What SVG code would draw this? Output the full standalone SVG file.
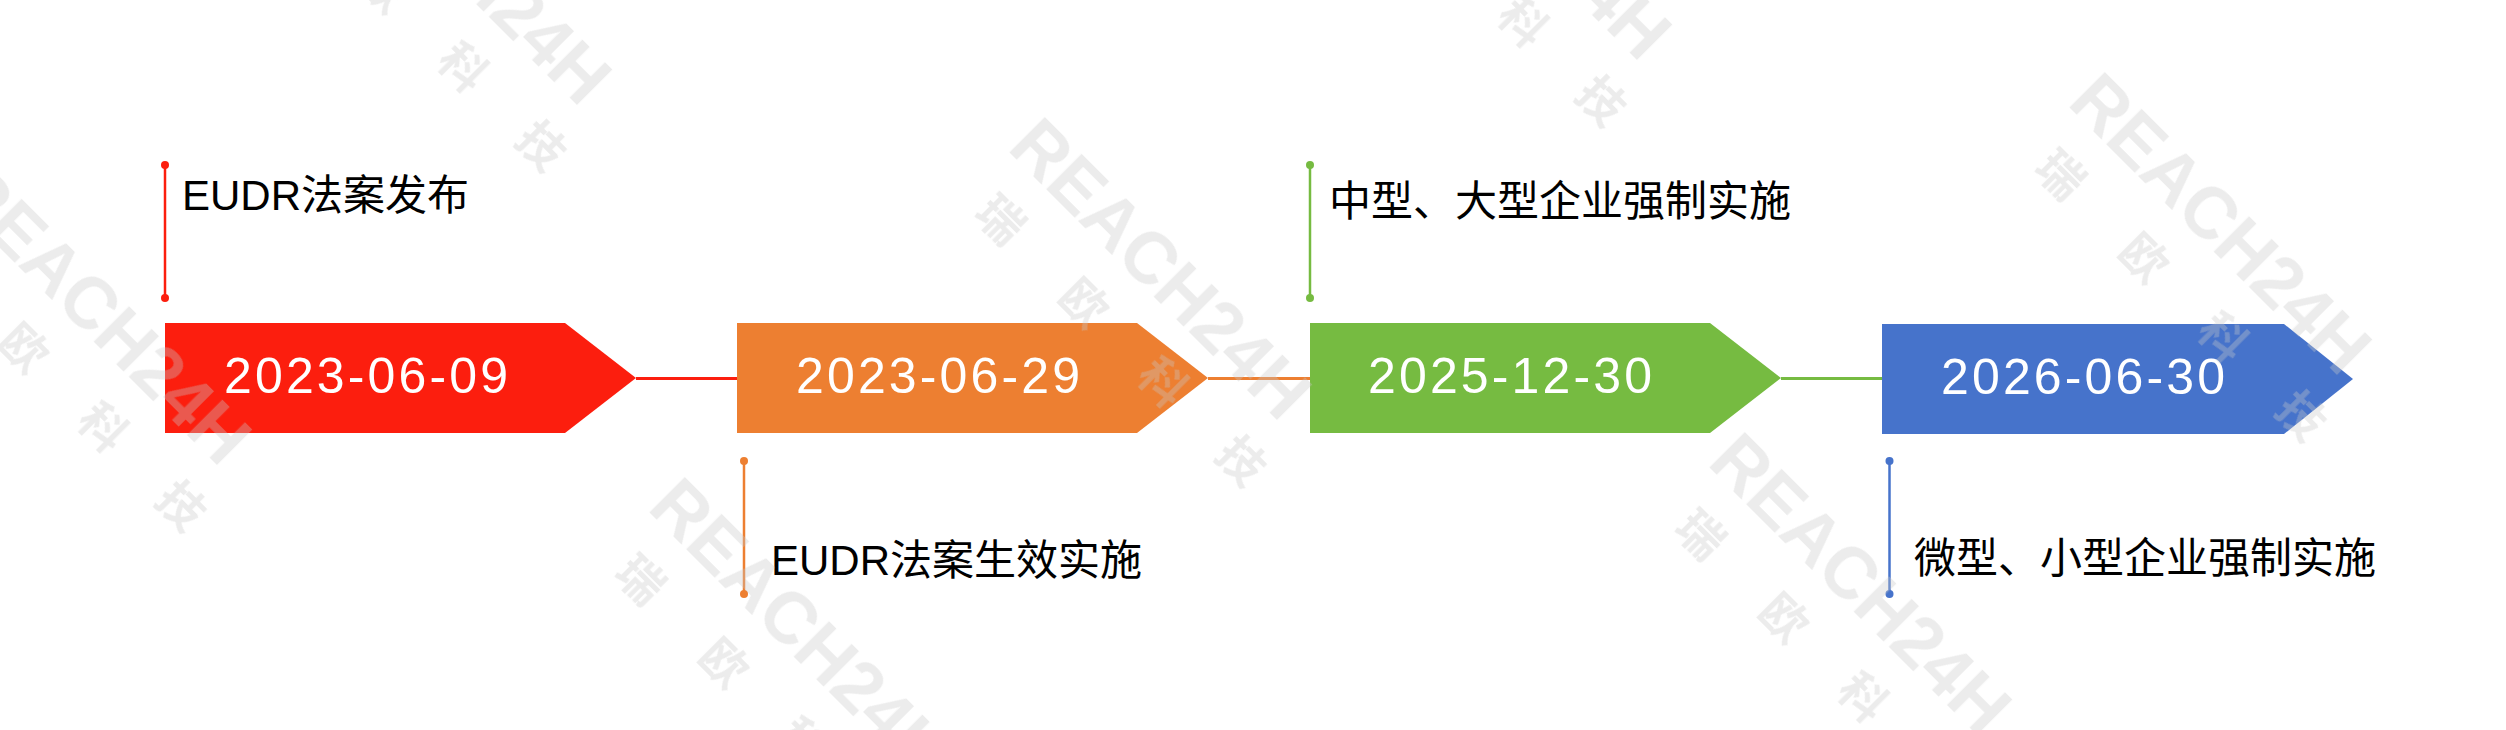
<svg xmlns="http://www.w3.org/2000/svg" xmlns:xlink="http://www.w3.org/1999/xlink" width="2506" height="730" viewBox="0 0 2506 730">
<style>
.date{font-family:"Liberation Sans","Noto Sans CJK SC",sans-serif;font-size:50px;fill:#ffffff}
.lbl{font-family:"Liberation Sans","Noto Sans CJK SC",sans-serif;font-size:42px;fill:#000000}
.wm{font-family:"Liberation Sans","Noto Sans CJK SC",sans-serif;font-weight:bold;fill:#c8c8c8}
.stem{stroke-width:2.5;fill:none}
.conn{stroke-width:3;fill:none}
</style>
<defs>
<g id="wmTile" transform="rotate(45)">
<text class="wm" x="0" y="0" font-size="72">REACH24H</text>
<g font-size="46" text-anchor="middle">
<text class="wm" x="46" y="70">瑞</text>
<text class="wm" x="164" y="70">欧</text>
<text class="wm" x="276" y="70">科</text>
<text class="wm" x="387" y="70">技</text>
</g>
</g>
</defs>
<rect width="2506" height="730" fill="#ffffff"/>
<g id="connectors">
<line class="conn" x1="636" y1="378.5" x2="738" y2="378.5" stroke="#FC1E0E"/>
<line class="conn" x1="1208" y1="378.5" x2="1310" y2="378.5" stroke="#ED7F31"/>
<line class="conn" x1="1781" y1="378.5" x2="1883" y2="378.5" stroke="#76BB41"/>
</g>
<g id="node1">
<polygon points="165,323 565,323 636,378 565,433 165,433" fill="#FC1E0E"/>
<text class="date" x="224" y="393" textLength="284" lengthAdjust="spacing">2023-06-09</text>
<line class="stem" x1="165" y1="165" x2="165" y2="298" stroke="#FC1E0E"/>
<circle cx="165" cy="165" r="4" fill="#FC1E0E"/>
<circle cx="165" cy="298" r="4" fill="#FC1E0E"/>
<text class="lbl" x="182" y="210">EUDR法案发布</text>
</g>
<g id="node2">
<polygon points="737,323 1137,323 1208,378 1137,433 737,433" fill="#ED7F31"/>
<text class="date" x="796" y="393" textLength="284" lengthAdjust="spacing">2023-06-29</text>
<line class="stem" x1="744" y1="461" x2="744" y2="594" stroke="#ED7F31"/>
<circle cx="744" cy="461" r="4" fill="#ED7F31"/>
<circle cx="744" cy="594" r="4" fill="#ED7F31"/>
<text class="lbl" x="771" y="575">EUDR法案生效实施</text>
</g>
<g id="node3">
<polygon points="1310,323 1710,323 1781,378 1710,433 1310,433" fill="#76BB41"/>
<text class="date" x="1368" y="393" textLength="284" lengthAdjust="spacing">2025-12-30</text>
<line class="stem" x1="1310" y1="165" x2="1310" y2="298" stroke="#76BB41"/>
<circle cx="1310" cy="165" r="4" fill="#76BB41"/>
<circle cx="1310" cy="298" r="4" fill="#76BB41"/>
<text class="lbl" x="1329" y="216">中型、大型企业强制实施</text>
</g>
<g id="node4">
<polygon points="1882,324 2284,324 2353,379 2284,434 1882,434" fill="#4673CB"/>
<text class="date" x="1941" y="394" textLength="284" lengthAdjust="spacing">2026-06-30</text>
<line class="stem" x1="1889.5" y1="461" x2="1889.5" y2="594" stroke="#4673CB"/>
<circle cx="1889.5" cy="461" r="4" fill="#4673CB"/>
<circle cx="1889.5" cy="594" r="4" fill="#4673CB"/>
<text class="lbl" x="1914" y="573">微型、小型企业强制实施</text>
</g>
<g id="watermark" opacity="0.35">
<use xlink:href="#wmTile" transform="translate(-54,194)"/>
<use xlink:href="#wmTile" transform="translate(306,-166)"/>
<use xlink:href="#wmTile" transform="translate(646,509)"/>
<use xlink:href="#wmTile" transform="translate(1006,149)"/>
<use xlink:href="#wmTile" transform="translate(1366,-211)"/>
<use xlink:href="#wmTile" transform="translate(1706,464)"/>
<use xlink:href="#wmTile" transform="translate(2066,104)"/>
</g>
</svg>
